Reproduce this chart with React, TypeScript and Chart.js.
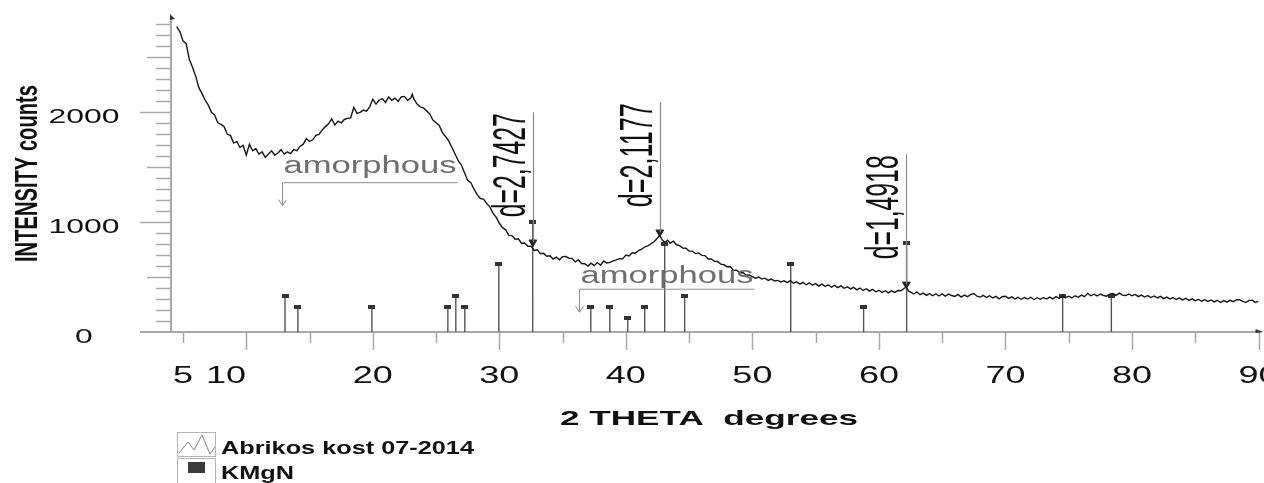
import React, { useEffect, useRef } from 'react';
import { Chart, registerables } from 'chart.js';

Chart.register(...registerables);

// ---- Data ----
const twoTheta = [
  4.5, 4.75, 5.0, 5.25, 5.5, 5.75, 6.0, 6.25, 6.5, 6.75, 7.0, 7.25, 7.5, 7.75, 8.0, 8.25, 8.5, 8.75, 9.0, 9.25,
  9.5, 9.75, 10.0, 10.25, 10.5, 10.75, 11.0, 11.25, 11.5, 11.75, 12.0, 12.25, 12.5, 12.75, 13.0, 13.25, 13.5, 13.75, 14.0, 14.25,
  14.5, 14.75, 15.0, 15.25, 15.5, 15.75, 16.0, 16.25, 16.5, 16.75, 17.0, 17.25, 17.5, 17.75, 18.0, 18.25, 18.5, 18.75, 19.0, 19.25,
  19.5, 19.75, 20.0, 20.25, 20.5, 20.75, 21.0, 21.25, 21.5, 21.75, 22.0, 22.25, 22.5, 22.75, 23.0, 23.12, 23.25, 23.5, 23.75, 24.0,
  24.25, 24.5, 24.75, 25.0, 25.25, 25.5, 25.75, 26.0, 26.25, 26.5, 26.75, 27.0, 27.25, 27.5, 27.75, 28.0, 28.25, 28.5, 28.75, 29.0,
  29.25, 29.5, 29.75, 30.0, 30.25, 30.5, 30.75, 31.0, 31.25, 31.5, 31.75, 32.0, 32.25, 32.5, 32.75, 33.0, 33.25, 33.5, 33.75, 34.0,
  34.25, 34.5, 34.75, 35.0, 35.25, 35.5, 35.75, 36.0, 36.25, 36.5, 36.75, 37.0, 37.25, 37.5, 37.75, 38.0, 38.25, 38.5, 38.75, 39.0,
  39.25, 39.5, 39.75, 40.0, 40.25, 40.5, 40.75, 41.0, 41.25, 41.5, 41.75, 42.0, 42.25, 42.5, 42.68, 42.9, 43.1, 43.3, 43.5, 43.75,
  44.0, 44.25, 44.5, 44.75, 45.0, 45.25, 45.5, 45.75, 46.0, 46.25, 46.5, 46.75, 47.0, 47.25, 47.5, 47.75, 48.0, 48.25, 48.5, 48.75,
  49.0, 49.25, 49.5, 49.75,
  50.0, 50.25, 50.5, 50.75, 51.0, 51.25, 51.5, 51.75, 52.0, 52.25, 52.5, 52.75, 53.0, 53.25, 53.5, 53.75, 54.0, 54.25, 54.5, 54.75,
  55.0, 55.25, 55.5, 55.75, 56.0, 56.25, 56.5, 56.75, 57.0, 57.25, 57.5, 57.75, 58.0, 58.25, 58.5, 58.75, 59.0, 59.25, 59.5, 59.75,
  60.0, 60.25, 60.5, 60.75, 61.0, 61.25, 61.5, 61.75, 61.95, 62.15, 62.35, 62.55, 62.75,
  63.0, 63.25, 63.5, 63.75, 64.0, 64.25, 64.5, 64.75, 65.0, 65.25, 65.5, 65.75, 66.0, 66.25, 66.5, 66.75, 67.0, 67.25, 67.5, 67.75,
  68.0, 68.25, 68.5, 68.75, 69.0, 69.25, 69.5, 69.75, 70.0, 70.25, 70.5, 70.75, 71.0, 71.25, 71.5, 71.75, 72.0, 72.25, 72.5, 72.75,
  73.0, 73.25, 73.5, 73.75, 74.0, 74.25, 74.5, 74.75, 75.0, 75.25, 75.5, 75.75, 76.0, 76.25, 76.5, 76.75, 77.0, 77.25, 77.5, 77.75,
  78.0, 78.25, 78.5, 78.75, 79.0, 79.25, 79.5, 79.75, 80.0, 80.25, 80.5, 80.75, 81.0, 81.25, 81.5, 81.75, 82.0, 82.25, 82.5, 82.75,
  83.0, 83.25, 83.5, 83.75, 84.0, 84.25, 84.5, 84.75, 85.0, 85.25, 85.5, 85.75, 86.0, 86.25, 86.5, 86.75, 87.0, 87.25, 87.5, 87.75,
  88.0, 88.25, 88.5, 88.75, 89.0, 89.25, 89.5, 89.75, 90.0,
];
const intensity = [
  2780, 2735, 2650, 2625, 2480, 2410, 2330, 2225, 2170, 2110, 2065, 2000, 1975, 1905, 1890, 1870, 1800, 1790, 1720, 1735,
  1680, 1700, 1610, 1710, 1650, 1670, 1620, 1640, 1590, 1620, 1650, 1610, 1630, 1660, 1620, 1640, 1625, 1660, 1650, 1690,
  1710, 1760, 1735, 1750, 1790, 1800, 1840, 1870, 1895, 1940, 1885, 1920, 1905, 1935, 1945, 1950, 2045, 1990, 2000, 2020,
  2010, 2050, 2120, 2075, 2110, 2125, 2090, 2140, 2110, 2130, 2100, 2140, 2145, 2110, 2130, 2165, 2120, 2075, 2050, 2040,
  2015, 1985, 1930, 1905, 1880, 1815, 1780, 1740, 1680, 1620, 1560, 1520, 1450, 1380, 1360, 1300, 1250, 1215, 1210, 1170,
  1140, 1080, 1045, 990, 950, 930, 880, 878, 845, 848, 808, 810, 780, 782, 742, 748, 712, 716, 690, 694,
  664, 682, 658, 686, 688, 672, 670, 638, 656, 624, 622, 600, 626, 604, 632, 608, 646, 628, 634, 648,
  656, 668, 666, 700, 692, 722, 718, 742, 754, 776, 784, 806, 824, 856, 880, 834, 816, 836, 808, 826,
  794, 786, 764, 762, 738, 736, 714, 720, 698, 696, 664, 666, 644, 642, 618, 612, 594, 596, 561, 562,
  539, 542, 518, 520,
  505, 490, 500, 482, 490, 470, 482, 464, 470, 456, 466, 450, 468, 444, 456, 436, 452, 430, 448, 426,
  440, 420, 436, 414, 430, 408, 424, 404, 420, 398, 412, 392, 406, 384, 400, 378, 394, 372, 388, 366,
  380, 360, 376, 356, 374, 360, 378, 376, 394, 410, 372, 360, 346,
  366, 340, 354, 334, 350, 330, 348, 328, 346, 326, 346, 332, 324, 342, 318, 336, 322, 340, 350, 326,
  318, 334, 314, 330, 310, 324, 302, 322, 326, 306, 320, 300, 316, 298, 314, 300, 316, 296, 312, 298,
  314, 300, 318, 302, 322, 306, 328, 312, 326, 310, 330, 316, 336, 322, 352, 330, 344, 328, 346, 332,
  326, 344, 350, 334, 354, 336, 332, 346, 330, 342, 322, 336, 318, 332, 314, 328, 310, 324, 304, 318,
  300, 314, 296, 310, 292, 306, 288, 302, 284, 298, 280, 294, 278, 292, 274, 288, 270, 286, 272, 288,
  276, 292, 294, 278, 268, 288, 290, 270, 282,
];

const kmgnTheta = [13.06, 14.08, 19.93, 25.93, 26.56, 27.27, 29.96, 32.64, 37.23, 38.73, 40.15, 41.49, 43.07, 44.65, 53.03, 58.79, 62.19, 74.52, 78.37];
const kmgnIntensity = [325, 225, 225, 225, 325, 225, 620, 1000, 225, 225, 125, 225, 805, 325, 620, 225, 807, 325, 325];

const dLabels = ['d=2,7427', 'd=2,1177', 'd=1,4918'];
const dTheta = [32.65, 42.68, 62.17];
const dIntensity = [817, 908, 434];

const amorphousLabels = ['amorphous', 'amorphous'];
const amorphousTheta = [12.83, 36.28];
const amorphousTip = [1150, 180];

const xTickLabels = ['5', '10', '20', '30', '40', '50', '60', '70', '80', '90'];
const xTickLabelAt = [5, 8.4, 20, 30, 40, 50, 60, 70, 80, 90];
const yTickLabels = ['0', '1000', '2000'];
const yTickLabelAt = [0, 1000, 2000];

const xTitle = '2 THETA  degrees';
const yTitle = 'INTENSITY counts';
const seriesNames = ['Abrikos kost 07-2014', 'KMgN'];

const FONT = '"Liberation Sans", Arial, sans-serif';

function stretchText(ctx: CanvasRenderingContext2D, text: string, x: number, y: number, font: string, sx: number, align: 'left' | 'center' | 'right') {
  ctx.save();
  ctx.font = font;
  ctx.textAlign = 'left';
  ctx.textBaseline = 'alphabetic';
  const w = ctx.measureText(text).width;
  ctx.translate(x, y);
  ctx.scale(sx, 1);
  const off = align === 'center' ? -w / 2 : align === 'right' ? -w : 0;
  ctx.fillText(text, off, 0);
  ctx.restore();
}

function fitText(ctx: CanvasRenderingContext2D, text: string, x: number, y: number, font: string, width: number, rotate = 0) {
  ctx.save();
  ctx.font = font;
  ctx.textAlign = 'left';
  ctx.textBaseline = 'alphabetic';
  const w = ctx.measureText(text).width;
  ctx.translate(x, y);
  if (rotate) ctx.rotate(rotate);
  ctx.scale(width / w, 1);
  ctx.fillText(text, 0, 0);
  ctx.restore();
  return width / w;
}

const axesPlugin = {
  id: 'xrdAxes',
  beforeDatasetsDraw(chart: any) {
    const ctx: CanvasRenderingContext2D = chart.ctx;
    const xs = chart.scales.x;
    const ys = chart.scales.y;
    const area = chart.chartArea;
    const y0 = ys.getPixelForValue(0);
    ctx.save();
    ctx.strokeStyle = '#a8a8a8';
    ctx.lineWidth = 1.5;
    // y ticks
    for (let v = 100; v <= 2800; v += 100) {
      const py = Math.round(ys.getPixelForValue(v)) + 0.5;
      const len = v % 1000 === 0 ? 31 : v % 500 === 0 ? 24 : 15;
      ctx.beginPath();
      ctx.moveTo(area.left - len, py);
      ctx.lineTo(area.left, py);
      ctx.stroke();
    }
    // x ticks
    for (let t = 5; t <= 90; t += 5) {
      const px = Math.round(xs.getPixelForValue(t)) + 0.5;
      const len = t % 10 === 0 ? 18 : 11;
      ctx.beginPath();
      ctx.moveTo(px, y0 + 1);
      ctx.lineTo(px, y0 + len);
      ctx.stroke();
    }
    // axis lines
    ctx.lineWidth = 2;
    ctx.beginPath();
    ctx.moveTo(area.left - 31, y0);
    ctx.lineTo(area.right + 2, y0);
    ctx.stroke();
    ctx.beginPath();
    ctx.moveTo(area.left, y0);
    ctx.lineTo(area.left, area.top);
    ctx.stroke();
    // axis arrow heads
    ctx.fillStyle = '#333';
    ctx.beginPath();
    ctx.moveTo(area.left - 1, area.top - 3);
    ctx.lineTo(area.left + 4, area.top + 2);
    ctx.lineTo(area.left - 1, area.top + 3);
    ctx.closePath();
    ctx.fill();
    ctx.beginPath();
    ctx.moveTo(area.right - 3, y0 - 3);
    ctx.lineTo(area.right + 5, y0);
    ctx.lineTo(area.right - 3, y0 + 1);
    ctx.closePath();
    ctx.fill();

    // tick labels
    ctx.fillStyle = '#111';
    yTickLabels.forEach((lab, i) => {
      const py = ys.getPixelForValue(yTickLabelAt[i]);
      stretchText(ctx, lab, 84, py + 11, `21px ${FONT}`, 1.52, 'center');
    });
    xTickLabels.forEach((lab, i) => {
      const px = xs.getPixelForValue(xTickLabelAt[i]);
      stretchText(ctx, lab, px, y0 + 51, `24px ${FONT}`, 1.5, 'center');
    });
    // titles
    fitText(ctx, xTitle, 560, 425, `bold 21px ${FONT}`, 298);
    fitText(ctx, yTitle, 37, 262, `bold 32px ${FONT}`, 177, -Math.PI / 2);

    // legend
    ctx.strokeStyle = '#b5b5b5';
    ctx.lineWidth = 1;
    ctx.strokeRect(177.5, 432.5, 38, 24);
    ctx.strokeRect(177.5, 458.5, 38, 26);
    ctx.strokeStyle = '#808080';
    ctx.beginPath();
    ctx.moveTo(179, 453);
    ctx.lineTo(188, 442);
    ctx.lineTo(194, 450);
    ctx.lineTo(202, 435);
    ctx.lineTo(210, 454);
    ctx.lineTo(215, 447);
    ctx.stroke();
    ctx.fillStyle = '#3a3a3a';
    ctx.fillRect(188, 462, 17, 11);
    ctx.fillStyle = '#111';
    const s = fitText(ctx, seriesNames[0], 221, 454, `bold 18px ${FONT}`, 253);
    stretchText(ctx, seriesNames[1], 221, 479, `bold 18px ${FONT}`, s, 'left');
    ctx.restore();
  },
  afterDatasetsDraw(chart: any) {
    const ctx: CanvasRenderingContext2D = chart.ctx;
    const xs = chart.scales.x;
    const ys = chart.scales.y;
    ctx.save();
    // d-spacing annotations
    dLabels.forEach((lab, i) => {
      const px = Math.round(xs.getPixelForValue(dTheta[i])) + 0.5;
      const py = ys.getPixelForValue(dIntensity[i]);
      ctx.strokeStyle = '#8a8a8a';
      ctx.lineWidth = 1.2;
      ctx.beginPath();
      ctx.moveTo(px, py);
      ctx.lineTo(px, py - 130);
      ctx.stroke();
      ctx.fillStyle = '#111';
      fitText(ctx, lab, px - 9, py - 25, `47px ${FONT}`, 104, -Math.PI / 2);
    });
    // amorphous annotations
    amorphousLabels.forEach((lab, i) => {
      const px = Math.round(xs.getPixelForValue(amorphousTheta[i])) + 0.5;
      const py = ys.getPixelForValue(amorphousTip[i]);
      ctx.strokeStyle = '#8f8f8f';
      ctx.lineWidth = 1;
      ctx.beginPath();
      ctx.moveTo(px, py);
      ctx.lineTo(px, py - 23);
      ctx.lineTo(px + 175, py - 23);
      ctx.stroke();
      ctx.beginPath();
      ctx.moveTo(px - 4, py - 6);
      ctx.lineTo(px, py);
      ctx.lineTo(px + 4, py - 6);
      ctx.stroke();
      ctx.fillStyle = '#6e6e6e';
      fitText(ctx, lab, px + 1, py - 23 - (i === 0 ? 10 : 6), `23px ${FONT}`, 173);
    });
    ctx.restore();
  },
};

export default function App() {
  const ref = useRef<HTMLCanvasElement | null>(null);
  useEffect(() => {
    if (!ref.current) return;
    const marker = document.createElement('canvas');
    marker.width = 7;
    marker.height = 4;
    const mctx = marker.getContext('2d')!;
    mctx.fillStyle = '#333';
    mctx.fillRect(0, 0, 7, 4);

    const sticks: any[] = [];
    kmgnTheta.forEach((t, i) => {
      sticks.push({ x: t, y: 0 });
      sticks.push({ x: t, y: kmgnIntensity[i] });
      sticks.push({ x: t, y: null });
    });

    const chart = new Chart(ref.current, {
      type: 'line',
      data: {
        datasets: [
          {
            label: seriesNames[0],
            data: twoTheta.map((t, i) => ({ x: t, y: intensity[i] })),
            borderColor: '#161616',
            borderWidth: 1.4,
            pointRadius: 0,
            fill: false,
            order: 1,
          },
          {
            label: seriesNames[1],
            data: sticks,
            borderColor: '#555',
            borderWidth: 1.4,
            spanGaps: false,
            fill: false,
            pointRadius: (c: any) => (c.dataIndex % 3 === 1 ? 3 : 0),
            pointStyle: marker as any,
            order: 3,
          },
          {
            label: 'd',
            data: dTheta.map((t, i) => ({ x: t, y: dIntensity[i] })),
            showLine: false,
            pointStyle: 'triangle',
            rotation: 180,
            pointRadius: 4.5,
            pointBackgroundColor: '#222',
            pointBorderColor: '#222',
            pointBorderWidth: 1,
            order: 0,
          },
        ],
      } as any,
      options: {
        animation: false,
        responsive: false,
        devicePixelRatio: 1,
        layout: { padding: { left: 171, right: 5, top: 17, bottom: 151 } },
        scales: {
          x: { type: 'linear', min: 4.05, max: 90, display: false },
          y: { type: 'linear', min: 0, max: 2868, display: false },
        },
        plugins: { legend: { display: false }, tooltip: { enabled: false } },
        elements: { line: { tension: 0 } },
      } as any,
      plugins: [axesPlugin],
    });
    return () => chart.destroy();
  }, []);

  return (
    <div style={{ position: 'fixed', left: 0, top: 0, width: 1264, height: 483, background: '#fff' }}>
      <canvas ref={ref} width={1264} height={483} style={{ display: 'block', width: 1264, height: 483 }} />
    </div>
  );
}
